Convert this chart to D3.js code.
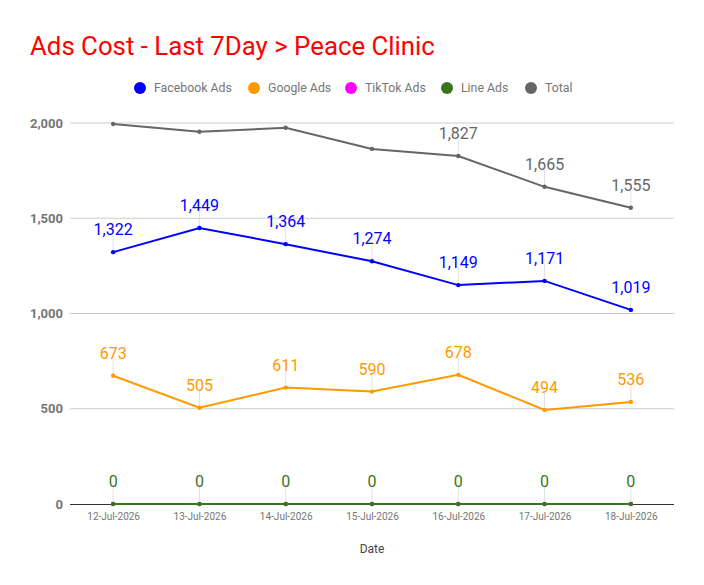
<!DOCTYPE html>
<html>
<head>
<meta charset="utf-8">
<script src="https://cdn.jsdelivr.net/npm/d3@7"></script>
<style>
  body { margin: 0; background: #fff; font-family: Roboto, "Noto Sans", sans-serif; }
  svg text { font-family: Roboto, "Noto Sans", sans-serif; }
</style>
</head>
<body>
<div id="chart"></div>
<script>
// data
const dates = ["12-Jul-2026", "13-Jul-2026", "14-Jul-2026", "15-Jul-2026", "16-Jul-2026", "17-Jul-2026", "18-Jul-2026"];
const facebookAds = [1322, 1449, 1364, 1274, 1149, 1171, 1019];
const googleAds = [673, 505, 611, 590, 678, 494, 536];
const tiktokAds = [0, 0, 0, 0, 0, 0, 0];
const lineAds = [0, 0, 0, 0, 0, 0, 0];
const totalAds = [1995, 1954, 1975, 1864, 1827, 1665, 1555];
const yTicks = [0, 500, 1000, 1500, 2000];

const series = [
    {name: "Facebook Ads", values: facebookAds, color: "#0000ff"},
    {name: "Google Ads", values: googleAds, color: "#ff9900"},
    {name: "TikTok Ads", values: tiktokAds, color: "#ff00ff"},
    {name: "Line Ads", values: lineAds, color: "#38761d"},
    {name: "Total", values: totalAds, color: "#666666"}
];

const W = 704, H = 585;
const margin = {top: 123, right: 30, bottom: 81, left: 70};
const width = W - margin.left - margin.right;
const height = H - margin.top - margin.bottom;

const svg = d3.select("#chart").append("svg")
    .attr("width", W)
    .attr("height", H);

// title
svg.append("text")
    .attr("x", 30)
    .attr("y", 55)
    .attr("fill", "#ff0000")
    .style("font-size", "25.8px")
    .text("Ads Cost - Last 7Day > Peace Clinic");

// legend
const legendX = [140, 254, 351, 447, 531];
const legend = svg.append("g").attr("class", "legend");
series.forEach((s, i) => {
    let g = legend.append("g").attr("transform", `translate(${legendX[i]}, 88)`);
    g.append("circle").attr("r", 6).attr("fill", s.color);
    g.append("text")
        .attr("x", 14)
        .attr("dy", "0.35em")
        .attr("fill", "#757575")
        .style("font-size", "12.3px")
        .text(s.name);
});

const plot = svg.append("g")
    .attr("transform", `translate(${margin.left},${margin.top})`);

const x = d3.scalePoint()
    .domain(dates)
    .range([0, width])
    .padding(0.5);

const y = d3.scaleLinear()
    .domain([0, 2000])
    .range([height, 0]);

// gridlines
plot.append("g")
    .selectAll("line")
    .data(yTicks.filter(d => d > 0))
    .join("line")
    .attr("x1", 0)
    .attr("x2", width)
    .attr("y1", d => y(d))
    .attr("y2", d => y(d))
    .attr("stroke", "#cccccc")
    .attr("stroke-width", 1);

// y axis labels
const yAxis = d3.axisLeft(y)
    .tickValues(yTicks)
    .tickSize(0)
    .tickPadding(7)
    .tickFormat(d3.format(","));
plot.append("g")
    .attr("class", "y-axis")
    .call(yAxis)
    .call(g => g.select(".domain").remove())
    .selectAll("text")
    .attr("fill", "#757575")
    .style("font-size", "13px")
    .style("font-weight", "bold");

// x axis
const xAxis = d3.axisBottom(x).tickSize(0).tickPadding(9);
plot.append("g")
    .attr("class", "x-axis")
    .attr("transform", `translate(0,${height})`)
    .call(xAxis)
    .call(g => g.select(".domain").attr("stroke", "#333333").attr("d", `M0,0.5H${width}`))
    .selectAll("text")
    .attr("fill", "#757575")
    .style("font-size", "10px");

svg.append("text")
    .attr("x", margin.left + width / 2)
    .attr("y", 553)
    .attr("text-anchor", "middle")
    .attr("fill", "#444444")
    .style("font-size", "12px")
    .text("Date");

// lines
const line = d3.line()
    .x((d, i) => x(dates[i]))
    .y(d => y(d));

series.forEach((s, si) => {
    let g = plot.append("g").attr("class", "series");

    // labels with leader lines, hidden if they poke above the plot
    // or sit exactly under a later series' label
    s.values.forEach((v, i) => {
        let px = x(dates[i]), py = y(v);
        if (py - 31 < -3) return;
        let covered = series.slice(si + 1).some(o => o.values[i] === v);
        if (covered) return;
        g.append("line")
            .attr("x1", px).attr("x2", px)
            .attr("y1", py - 2).attr("y2", py - 17)
            .attr("stroke", "#e0e0e0")
            .attr("stroke-width", 1);
        g.append("text")
            .attr("x", px)
            .attr("y", py - 17)
            .attr("text-anchor", "middle")
            .attr("fill", s.color)
            .style("font-size", "16px")
            .text(d3.format(",")(v));
    });

    g.append("path")
        .datum(s.values)
        .attr("fill", "none")
        .attr("stroke", s.color)
        .attr("stroke-width", 2)
        .attr("d", line);

    g.selectAll("circle")
        .data(s.values)
        .join("circle")
        .attr("cx", (d, i) => x(dates[i]))
        .attr("cy", d => y(d))
        .attr("r", 2.2)
        .attr("fill", s.color);
});
</script>
</body>
</html>
